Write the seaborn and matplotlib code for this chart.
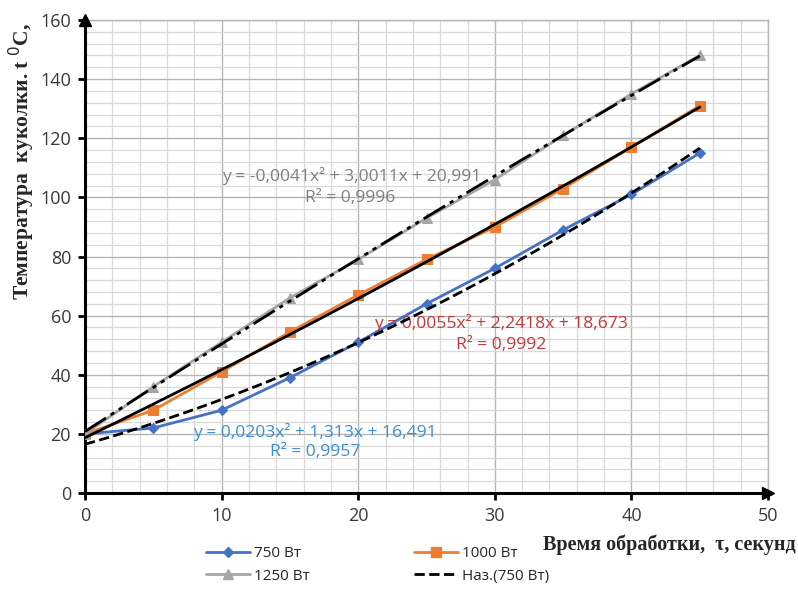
import numpy as np
import pandas as pd
import matplotlib
matplotlib.use("Agg")
import matplotlib.pyplot as plt
import seaborn as sns
from matplotlib.ticker import MultipleLocator
from matplotlib.lines import Line2D

# ---- data ----
time_s = [0, 5, 10, 15, 20, 25, 30, 35, 40, 45]
t_750 = [20, 22, 28, 39, 51, 64, 76, 89, 101, 115]
t_1000 = [20, 28, 41, 54.5, 67, 79, 90, 103, 117, 131]
t_1250 = [20, 36, 51, 66, 79, 93, 106, 121, 135, 148]
series_names = ["750 Вт", "1000 Вт", "1250 Вт"]
trend_label = "Наз.(750 Вт)"
eq_750 = ["y = 0,0203x² + 1,313x + 16,491", "R² = 0,9957"]
eq_1000 = ["y = 0,0055x² + 2,2418x + 18,673", "R² = 0,9992"]
eq_1250 = ["y = -0,0041x² + 3,0011x + 20,991", "R² = 0,9996"]
x_label = "Время обработки,  τ, секунд"
y_label = "Температура  куколки. t $^0$C,"

sns.set_theme(style="white")
plt.rcParams["font.family"] = ["Open Sans", "DejaVu Sans"]

fig = plt.figure(figsize=(7.98, 5.94), dpi=100)
ax = fig.add_axes([0.1065, 0.17, 0.856, 0.7963])

colors = {"750 Вт": "#4472C4", "1000 Вт": "#ED7D31", "1250 Вт": "#A5A5A5"}
markers = {"750 Вт": "D", "1000 Вт": "s", "1250 Вт": "^"}
sizes = {"750 Вт": 5, "1000 Вт": 6.5, "1250 Вт": 7}

for name, ys in zip(series_names, [t_750, t_1000, t_1250]):
    sns.lineplot(x=time_s, y=ys, ax=ax, color=colors[name], lw=2,
                 marker=markers[name], markersize=sizes[name],
                 markeredgecolor=colors[name], zorder=3, legend=False)

# trendlines (2nd-order polynomial, as in the source)
for ys, ls in zip([t_750, t_1000, t_1250], ["--", "-", (0, (9, 2, 1.5, 2, 1.5, 2))]):
    sns.regplot(x=time_s, y=ys, ax=ax, order=2, ci=None, scatter=False,
                truncate=True,
                line_kws=dict(color="black", lw=2, ls=ls, zorder=4))

ax.set_xlim(0, 50)
ax.set_ylim(0, 160)
ax.xaxis.set_major_locator(MultipleLocator(10))
ax.xaxis.set_minor_locator(MultipleLocator(2))
ax.yaxis.set_major_locator(MultipleLocator(20))
ax.yaxis.set_minor_locator(MultipleLocator(4))
ax.grid(which="major", color="#b5b5b5", lw=1.0)
ax.grid(which="minor", color="#d9d9d9", lw=0.9)
ax.set_axisbelow(True)

for sp in ["left", "bottom"]:
    ax.spines[sp].set_color("black")
    ax.spines[sp].set_linewidth(2.2)
for sp in ["top", "right"]:
    ax.spines[sp].set_color("#b5b5b5")
    ax.spines[sp].set_linewidth(1.0)

ax.plot(1, 0, ">", color="black", ms=9, transform=ax.transAxes, clip_on=False, zorder=6)
ax.plot(0, 1, "^", color="black", ms=9, transform=ax.transAxes, clip_on=False, zorder=6)

ax.tick_params(axis="both", which="major", direction="out", length=5, width=2,
               color="black", labelsize=13, labelcolor="#3a3a3a", pad=5)
ax.tick_params(axis="both", which="minor", length=0)
ax.tick_params(left=True, bottom=True)
ax.set_xlabel("")
ax.set_ylabel("")

# equations
eq_fs = 12.6
ax.text(222 / 798, 1 - 176 / 594, eq_1250[0], transform=fig.transFigure, color="#808080",
        fontsize=eq_fs, ha="left", va="center")
ax.text(350 / 798, 1 - 198 / 594, eq_1250[1], transform=fig.transFigure, color="#808080",
        fontsize=eq_fs, ha="center", va="center")
ax.text(374 / 798, 1 - 323 / 594, eq_1000[0], transform=fig.transFigure, color="#C0393B",
        fontsize=eq_fs, ha="left", va="center")
ax.text(501 / 798, 1 - 345 / 594, eq_1000[1], transform=fig.transFigure, color="#C0393B",
        fontsize=eq_fs, ha="center", va="center")
ax.text(193 / 798, 1 - 432 / 594, eq_750[0], transform=fig.transFigure, color="#3A8FD6",
        fontsize=eq_fs, ha="left", va="center")
ax.text(315 / 798, 1 - 452 / 594, eq_750[1], transform=fig.transFigure, color="#3A8FD6",
        fontsize=eq_fs, ha="center", va="center")

# axis titles
fig.text(796 / 798, 1 - 545 / 594, x_label, ha="right", va="center",
         fontsize=14.5, fontweight="bold", family=["Liberation Serif", "DejaVu Serif"])
fig.text(22 / 798, 1 - 162 / 594, y_label, ha="center", va="center", rotation=90,
         fontsize=15.5, fontweight="bold", family=["Liberation Serif", "DejaVu Serif"])

# legend
h750 = Line2D([], [], color=colors["750 Вт"], lw=2, marker="D", ms=5)
h1000 = Line2D([], [], color=colors["1000 Вт"], lw=2, marker="s", ms=6.5)
h1250 = Line2D([], [], color=colors["1250 Вт"], lw=2, marker="^", ms=7)
htr = Line2D([], [], color="black", lw=2, ls="--")
fig.legend([h750, h1250, h1000, htr], [series_names[0], series_names[2], series_names[1], trend_label],
           ncol=2, loc="center left", bbox_to_anchor=(192 / 798, 1 - 565 / 594),
           frameon=False, fontsize=11, handlelength=2.9, columnspacing=6.8,
           labelspacing=0.5, handletextpad=0.25)

fig.savefig("out.png", dpi=100)
